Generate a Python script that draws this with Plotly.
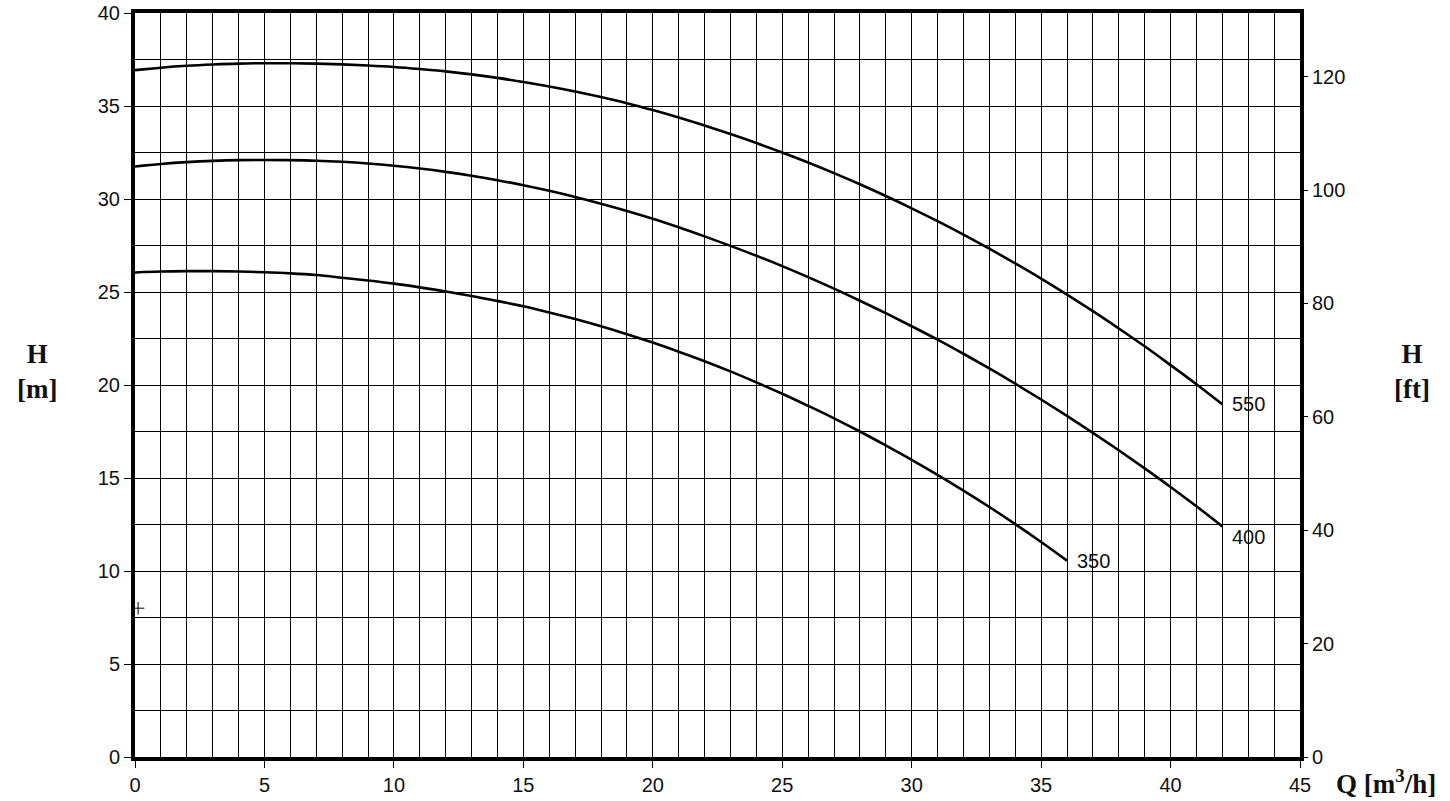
import plotly.graph_objects as go

# Pump curves: flow Q [m3/h] vs head H [m]
q_550 = list(range(0, 43))
h_550 = [36.93, 37.06, 37.16, 37.23, 37.28, 37.30, 37.30, 37.28, 37.24, 37.18,
         37.10, 36.99, 36.86, 36.70, 36.51, 36.29, 36.05, 35.78, 35.48, 35.15,
         34.78, 34.38, 33.95, 33.49, 33.01, 32.50, 31.96, 31.39, 30.79, 30.16,
         29.50, 28.81, 28.09, 27.33, 26.54, 25.72, 24.86, 23.97, 23.04, 22.08,
         21.07, 20.04, 18.96]

q_400 = list(range(0, 43))
h_400 = [31.75, 31.88, 31.98, 32.05, 32.09, 32.10, 32.09, 32.06, 32.00, 31.91,
         31.79, 31.64, 31.46, 31.25, 31.01, 30.74, 30.44, 30.11, 29.75, 29.36,
         28.94, 28.48, 27.99, 27.48, 26.95, 26.39, 25.80, 25.18, 24.53, 23.86,
         23.16, 22.44, 21.68, 20.89, 20.07, 19.22, 18.34, 17.43, 16.49, 15.52,
         14.52, 13.48, 12.40]

q_350 = list(range(0, 37))
h_350 = [26.05, 26.10, 26.12, 26.12, 26.10, 26.06, 26.00, 25.91, 25.77, 25.62,
         25.45, 25.25, 25.03, 24.79, 24.52, 24.23, 23.90, 23.55, 23.16, 22.73,
         22.28, 21.79, 21.28, 20.73, 20.14, 19.53, 18.88, 18.21, 17.50, 16.75,
         15.98, 15.17, 14.32, 13.44, 12.52, 11.56, 10.56]

curve_labels = ["550", "400", "350"]
label_dy = [0.0, -0.55, 0.0]

x_ticks = [0, 5, 10, 15, 20, 25, 30, 35, 40, 45]
y_ticks = [0, 5, 10, 15, 20, 25, 30, 35, 40]
ft_ticks = [0, 20, 40, 60, 80, 100, 120]
M_TO_FT = 3.28084

tick_font = dict(family="Liberation Sans, Arial, sans-serif", size=20, color="#111")
title_font = dict(family="Liberation Serif, Times New Roman, serif", size=27, color="#111")

fig = go.Figure()
series = [(q_550, h_550), (q_400, h_400), (q_350, h_350)]
for (qs, hs) in series:
    fig.add_trace(go.Scatter(x=qs, y=hs, mode="lines",
                             line=dict(color="black", width=2.6, shape="spline", smoothing=1.0),
                             showlegend=False, hoverinfo="x+y"))

# small cross mark near the left axis
fig.add_trace(go.Scatter(x=[0.12], y=[8.0], mode="markers",
                         marker=dict(symbol="cross-thin", size=9, line=dict(color="black", width=1)),
                         showlegend=False, hoverinfo="skip"))

# invisible trace for the ft axis
fig.add_trace(go.Scatter(x=[0, 45], y=[0, 40 * M_TO_FT], mode="markers", marker=dict(opacity=0),
                         yaxis="y2", showlegend=False, hoverinfo="skip"))

for (qs, hs), lab, dy in zip(series, curve_labels, label_dy):
    fig.add_annotation(x=qs[-1], y=hs[-1] + dy, text=lab, showarrow=False, xanchor="left",
                       yanchor="middle", xshift=8, font=tick_font)

fig.add_annotation(xref="paper", yref="paper", x=-0.084, y=0.5175, text="<b>H</b><br><b>[m]</b>",
                   showarrow=False, font=title_font, xanchor="center", yanchor="middle")
fig.add_annotation(xref="paper", yref="paper", x=1.096, y=0.5175, text="<b>H</b><br><b>[ft]</b>",
                   showarrow=False, font=title_font, xanchor="center", yanchor="middle")
fig.add_annotation(xref="paper", yref="paper", x=1.029, y=-0.034, text="<b>Q [m<sup>3</sup>/h]</b>",
                   showarrow=False, font=title_font, xanchor="left", yanchor="middle")

fig.update_layout(
    width=1450, height=801,
    margin=dict(l=135, r=150, t=13, b=44, autoexpand=False),
    paper_bgcolor="white", plot_bgcolor="white",
    xaxis=dict(range=[0, 45], tickvals=x_ticks, ticks="outside", ticklen=7, tickcolor="black",
               showgrid=True, gridcolor="black", gridwidth=1,
               minor=dict(dtick=1, showgrid=True, gridcolor="black", gridwidth=1),
               showline=True, linecolor="black", linewidth=4, mirror=True, automargin=False,
               zeroline=False, tickfont=tick_font, ticklabeloverflow="allow"),
    yaxis=dict(range=[0, 40], tickvals=y_ticks, ticks="outside", ticklen=7, tickcolor="black",
               showgrid=True, gridcolor="black", gridwidth=1,
               minor=dict(dtick=2.5, showgrid=True, gridcolor="black", gridwidth=1),
               showline=True, linecolor="black", linewidth=4, mirror=True, automargin=False,
               zeroline=False, tickfont=tick_font, ticklabeloverflow="allow"),
    yaxis2=dict(range=[0, 40 * M_TO_FT], tickvals=ft_ticks, overlaying="y", side="right",
                ticks="outside", ticklen=7, tickcolor="black", showgrid=False, zeroline=False,
                showline=False, automargin=False, tickfont=tick_font, ticklabeloverflow="allow"),
)

fig.write_html("out.html", config={"displayModeBar": False},
               post_script="document.body.style.margin='0';document.body.style.overflow='hidden';")
